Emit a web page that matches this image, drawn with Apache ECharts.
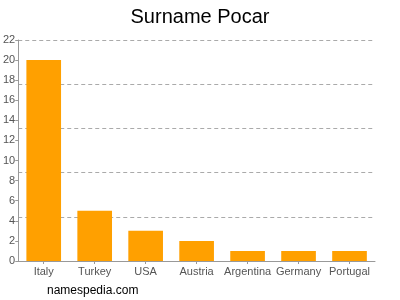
<!DOCTYPE html>
<html>
<head>
<meta charset="utf-8">
<script src="https://cdn.jsdelivr.net/npm/echarts@6/dist/echarts.min.js"></script>
<style>html,body{margin:0;padding:0;background:#fff}#c{width:400px;height:300px}</style>
</head>
<body>
<div id="c"></div>
<script>
const categories = ["Italy", "Turkey", "USA", "Austria", "Argentina", "Germany", "Portugal"];
const counts = [20, 5, 3, 2, 1, 1, 1];
const yMax = 22;
const labelStep = 2;
const gridStep = 4.4;

const chart = echarts.init(document.getElementById('c'), null, {renderer: 'canvas'});
const font = 'Liberation Sans, Arial, sans-serif';
chart.setOption({
  animation: false,
  title: {
    text: 'Surname Pocar', left: 'center', top: 2,
    textStyle: {fontFamily: font, fontSize: 20, fontWeight: 'normal', color: '#000'}
  },
  graphic: [{
    type: 'text', left: 47, top: 285,
    style: {text: 'namespedia.com', fontFamily: font, fontSize: 12, fill: '#000'}
  }],
  grid: {left: 17, right: 25, top: 40, bottom: 39, containLabel: false},
  xAxis: {
    type: 'category', data: categories,
    axisLine: {lineStyle: {color: '#999'}},
    axisTick: {show: true, alignWithLabel: true, length: 3, lineStyle: {color: '#999'}},
    axisLabel: {fontFamily: font, fontSize: 11, color: '#555', margin: 5, interval: 0}
  },
  yAxis: [{
    type: 'value', min: 0, max: yMax, interval: labelStep,
    axisLine: {show: true, lineStyle: {color: '#999'}},
    axisTick: {show: true, length: 3, lineStyle: {color: '#999'}},
    axisLabel: {fontFamily: font, fontSize: 11, color: '#555', margin: 3},
    splitLine: {show: false}
  }, {
    type: 'value', min: 0, max: yMax, interval: gridStep, position: 'left',
    axisLine: {show: false}, axisTick: {show: false}, axisLabel: {show: false},
    splitLine: {show: true, lineStyle: {color: '#aaa', type: [4, 3], width: 1}}
  }],
  series: [{
    type: 'bar', data: counts, barWidth: '68%', yAxisIndex: 0,
    itemStyle: {color: '#ffa000'}
  }]
});
</script>
</body>
</html>
